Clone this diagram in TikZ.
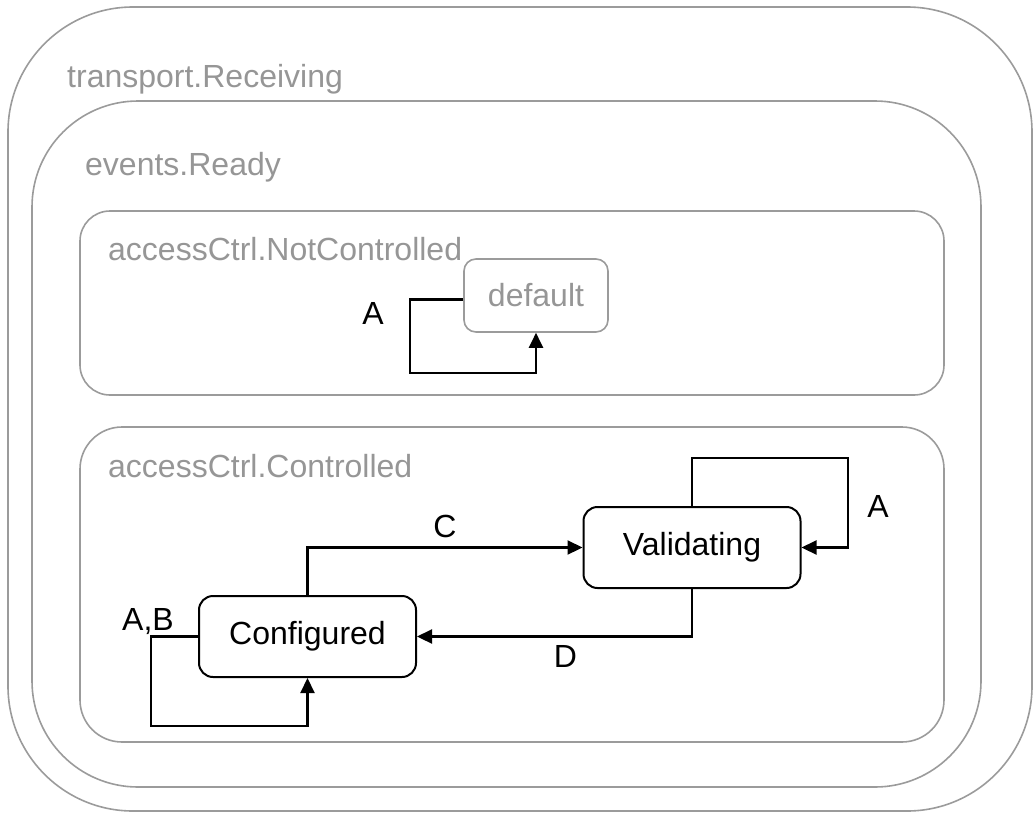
\documentclass[tikz,border=0pt]{standalone}
\usepackage{fontspec}
\setmainfont{Liberation Sans}
\usetikzlibrary{arrows.meta}
\definecolor{regiongray}{RGB}{155,155,155}
\definecolor{labelgray}{RGB}{150,150,150}
\begin{document}
\begin{tikzpicture}[x=1pt,y=-1pt,
    region/.style={draw=regiongray,line width=1.6pt},
    regionlabel/.style={anchor=base west,text=labelgray,inner sep=0pt,font=\fontsize{32}{38}\selectfont},
    state/.style={draw,rectangle,rounded corners=14pt,line width=2pt,minimum width=217pt,minimum height=81pt,inner sep=0pt,font=\fontsize{32}{38}\selectfont},
    trans/.style={line width=2.2pt,-{Triangle[length=15pt,width=14pt]}},
    lbl/.style={inner sep=0pt,font=\fontsize{32}{38}\selectfont}]
    \useasboundingbox (0,0) rectangle (1034,812);
    % nested regions
    \draw[region,rounded corners=125pt] (8,7) rectangle (1032,811);
    \draw[region,rounded corners=106pt] (32,101) rectangle (981,787);
    \draw[region,rounded corners=30pt] (80,211) rectangle (944,395);
    \draw[region,rounded corners=42pt] (80,427) rectangle (944,742);
    \node[regionlabel] (recv) at (67,87) {transport.Receiving};
    \node[regionlabel] (ready) at (85,175) {events.Ready};
    \node[regionlabel] (notctrl) at (108,260) {accessCtrl.NotControlled};
    \node[regionlabel] (ctrl) at (108,477) {accessCtrl.Controlled};
    % states
    \node[state,draw=regiongray,text=labelgray,rounded corners=12pt,minimum width=144pt,minimum height=73pt,line width=1.6pt] (default) at (536,295.5) {default};
    \node[state] (config) at (307.5,636.5) {Configured};
    \node[state] (valid) at (692,547.5) {Validating};
    % transitions
    \draw[trans] ([yshift=-4pt]default.west) -- ++(-53,0) |- ([yshift=-40pt]default.south) -- (default.south);
    \node[lbl] (la) at (373,313) {A};
    \draw[trans] (config.north) |- (valid.west) node[lbl,pos=0.75,above=9pt] (lc) {C};
    \draw[trans] (valid.south) |- (config.east) node[lbl,pos=0.73,below=8pt] (ld) {D};
    \draw[trans] (valid.north) |- ++(156,-48) |- (valid.east);
    \node[lbl] (lva) at (878,506) {A};
    \draw[trans] (config.west) -- ++(-47,0) |- ([yshift=-48pt]config.south) -- (config.south);
    \node[lbl] (lab) at (148,622) {A,B};
\end{tikzpicture}
\end{document}
